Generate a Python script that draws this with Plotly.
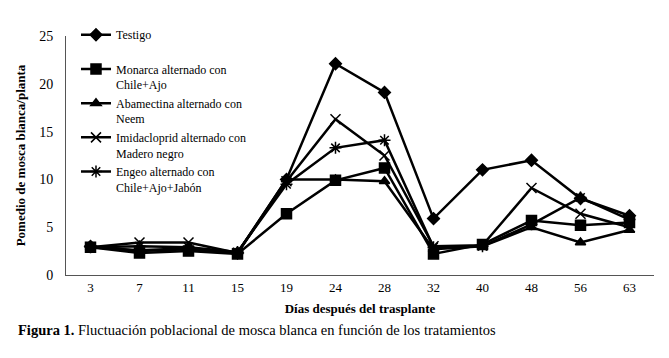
import plotly.graph_objects as go

dias = ["3", "7", "11", "15", "19", "24", "28", "32", "40", "48", "56", "63"]

testigo =      [3.0, 2.5, 2.7, 2.3, 10.0, 22.1, 19.1, 5.9, 11.0, 12.0, 8.0, 6.2]
monarca =      [2.9, 2.3, 2.5, 2.2, 6.4, 9.9, 11.2, 2.2, 3.2, 5.7, 5.2, 5.5]
abamectina =   [2.9, 2.6, 2.8, 2.3, 10.0, 10.0, 9.8, 2.7, 3.0, 5.0, 3.4, 4.7]
imidacloprid = [2.9, 3.4, 3.4, 2.3, 9.8, 16.3, 12.5, 3.0, 3.1, 9.1, 6.4, 5.0]
engeo =        [2.9, 3.0, 2.9, 2.4, 9.5, 13.3, 14.1, 2.9, 3.0, 5.3, 8.1, 5.8]

names = [
    "Testigo<br> ",
    "Monarca alternado con<br>Chile+Ajo",
    "Abamectina alternado con<br>Neem",
    "Imidacloprid alternado con<br>Madero negro",
    "Engeo alternado con<br>Chile+Ajo+Jabón",
]
series = [testigo, monarca, abamectina, imidacloprid, engeo]
symbols = ["diamond", "square", "triangle-up", "x-thin-open", "asterisk-open"]
sizes = [9, 10, 9, 10, 10]

fig = go.Figure()
for n, s, sym, sz in zip(names, series, symbols, sizes):
    fig.add_trace(go.Scatter(
        x=dias, y=s, name=n, mode="lines+markers",
        line=dict(color="black", width=2.5),
        marker=dict(symbol=sym, size=sz, color="black",
                    line=dict(color="black", width=1.5)),
    ))

font = "Liberation Serif"
fig.update_layout(
    width=669, height=358,
    margin=dict(l=58, r=23, t=26, b=91),
    paper_bgcolor="white", plot_bgcolor="white",
    font=dict(family=font, size=13, color="black"),
    showlegend=True,
    legend=dict(x=0.017, y=1.065, xanchor="left", yanchor="top",
                bgcolor="rgba(0,0,0,0)", font=dict(size=12, family=font),
                valign="top", tracegroupgap=0, itemwidth=30, maxheight=300),
    xaxis=dict(type="category", range=[-0.5, 11.5], showline=True,
               linecolor="#555", linewidth=1, showgrid=False, ticks="",
               tickfont=dict(size=13), mirror=False, automargin=False,
               ticklabelstandoff=0,
               title=dict(text="<b>Días después del trasplante</b>",
                          font=dict(size=13), standoff=10)),
    yaxis=dict(range=[0, 25], dtick=5, showline=True, linecolor="#555",
               linewidth=1, showgrid=False, ticks="", zeroline=False,
               tickfont=dict(size=14), automargin=False, ticklabelstandoff=9,
               title=dict(text="<b>Pomedio de mosca blanca/planta</b>",
                          font=dict(size=13), standoff=10)),
)
fig.add_annotation(
    text="<b>Figura 1.</b> Fluctuación poblacional de mosca blanca en función de los tratamientos",
    xref="paper", yref="paper", x=-0.085, y=-0.19, xanchor="left", yanchor="top",
    showarrow=False, font=dict(size=14.5, family=font),
)
fig.write_html("out.html")
